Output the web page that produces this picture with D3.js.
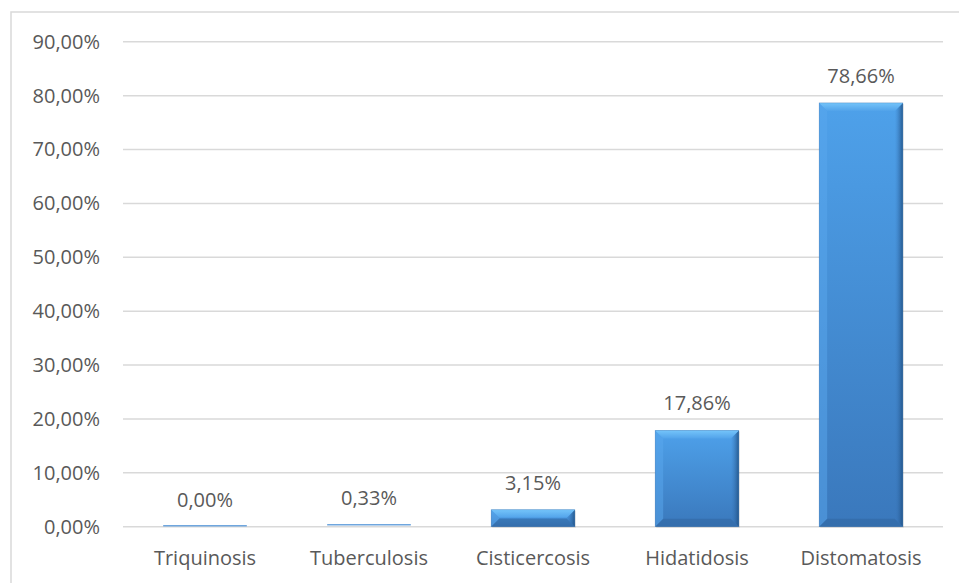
<!DOCTYPE html>
<html><head><meta charset="utf-8">
<script src="https://cdn.jsdelivr.net/npm/d3@7/dist/d3.min.js"></script>
<style>
html,body{margin:0;padding:0;background:#fff;}
svg{display:block;}
text{font-family:"Open Sans",sans-serif;fill:#595959;}
</style></head><body>
<svg id="c" width="959" height="583"></svg>
<script>
const categories = ["Triquinosis","Tuberculosis","Cisticercosis","Hidatidosis","Distomatosis"];
const values = [0.00, 0.33, 3.15, 17.86, 78.66];
const ticks = [0,10,20,30,40,50,60,70,80,90];
const fmt = v => v.toFixed(2).replace(".", ",") + "%";

(function(){
const svg = d3.select("#c");
const W = 959, H = 583;
const pLeft = 123, pRight = 943, pTop = 41.8, pBottom = 526.7;

svg.append("rect").attr("x",11).attr("y",12).attr("width",W+20).attr("height",H+20)
  .attr("fill","none").attr("stroke","#d9d9d9").attr("stroke-width",1.5);

const x = d3.scaleBand().domain(categories).range([pLeft,pRight]).paddingInner(0.49).paddingOuter(0.245);
const y = d3.scaleLinear().domain([0,90]).range([pBottom,pTop]);

const defs = svg.append("defs");
const g1 = defs.append("linearGradient").attr("id","face").attr("x1",0).attr("y1",0).attr("x2",0).attr("y2",1);
g1.append("stop").attr("offset","0%").attr("stop-color","#4ea1ea");
g1.append("stop").attr("offset","100%").attr("stop-color","#3a78bc");
const g2 = defs.append("linearGradient").attr("id","topbev").attr("x1",0).attr("y1",0).attr("x2",0).attr("y2",1);
g2.append("stop").attr("offset","0%").attr("stop-color","#74c4fa");
g2.append("stop").attr("offset","100%").attr("stop-color","#52a3ea");
const g3 = defs.append("linearGradient").attr("id","rbev").attr("x1",0).attr("y1",0).attr("x2",1).attr("y2",0);
g3.append("stop").attr("offset","0%").attr("stop-color","#3a78bc").attr("stop-opacity",0);
g3.append("stop").attr("offset","100%").attr("stop-color","#1f4f80").attr("stop-opacity",0.85);

svg.append("g").selectAll("line").data(ticks).join("line")
  .attr("x1",pLeft).attr("x2",pRight).attr("y1",d=>y(d)).attr("y2",d=>y(d))
  .attr("stroke","#d9d9d9").attr("stroke-width",1.5);

const yAxis = d3.axisLeft(y).tickValues(ticks).tickSize(0).tickPadding(23).tickFormat(d=>fmt(d));
const ya = svg.append("g").attr("transform",`translate(${pLeft},0)`).call(yAxis);
ya.select(".domain").remove();
ya.selectAll("text").attr("font-size",20).attr("fill","#595959").style("font-family","'Open Sans',sans-serif");

const xAxis = d3.axisBottom(x).tickSize(0).tickPadding(24);
const xa = svg.append("g").attr("transform",`translate(0,${pBottom})`).call(xAxis);
xa.select(".domain").remove();
xa.selectAll("text").attr("font-size",20).attr("fill","#595959").style("font-family","'Open Sans',sans-serif");

const bw = x.bandwidth();
const data = categories.map((c,i)=>({c,v:values[i]}));
const bars = svg.append("g").selectAll("g").data(data).join("g");
bars.each(function(d){
  const g = d3.select(this);
  const x0 = x(d.c), x1 = x0 + bw, yt = y(d.v), yb = y(0);
  const h = yb - yt;
  if (h < 3) {
    g.append("line").attr("x1",x0).attr("x2",x1).attr("y1",yb-1-h/2).attr("y2",yb-1-h/2)
      .attr("stroke","#6fa6de").attr("stroke-width",1.5);
    return;
  }
  const b = Math.min(8, h/2, bw/2);
  g.append("rect").attr("x",x0+1).attr("y",yt+1).attr("width",bw).attr("height",h)
    .attr("fill","#000").attr("opacity",0.1);
  g.append("rect").attr("x",x0).attr("y",yt).attr("width",bw).attr("height",h).attr("fill","url(#face)");
  const poly = (pts, fill, op) => g.append("polygon").attr("points",pts.map(p=>p.join(",")).join(" ")).attr("fill",fill).attr("opacity",op);
  poly([[x0,yt],[x0+b,yt+b],[x0+b,yb-b],[x0,yb]], "#5aa8ee", 0.5);
  poly([[x1,yt],[x1,yb],[x1-b,yb-b],[x1-b,yt+b]], "url(#rbev)", 1);
  poly([[x0,yb],[x1,yb],[x1-b,yb-b],[x0+b,yb-b]], "#2f6299", 0.45);
  poly([[x0,yt],[x1,yt],[x1-b,yt+b],[x0+b,yt+b]], "url(#topbev)", 1);
  g.append("rect").attr("x",x0).attr("y",yt).attr("width",bw).attr("height",h)
    .attr("fill","none").attr("stroke","#2f6aa8").attr("stroke-width",0.6).attr("opacity",0.5);
});

svg.append("g").selectAll("text").data(data).join("text")
  .attr("x",d=>x(d.c)+bw/2).attr("y",d=>y(d.v)-20).attr("text-anchor","middle")
  .attr("font-size",20).text(d=>fmt(d.v));
})();
</script>
</body></html>
